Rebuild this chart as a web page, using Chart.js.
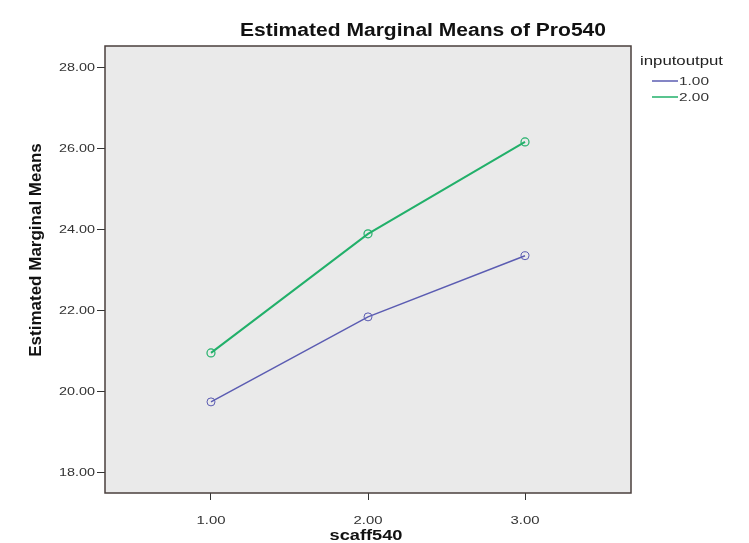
<!DOCTYPE html>
<html>
<head>
<meta charset="utf-8">
<script src="https://cdn.jsdelivr.net/npm/chart.js@4.4.1/dist/chart.umd.min.js"></script>
<style>
  html, body { margin: 0; padding: 0; background: #fff; }
  #wrap { width: 749px; height: 543px; position: relative; }
</style>
</head>
<body>
<div id="wrap"><canvas id="main-graph"></canvas></div>
<script>
const scaff540 = [1, 2, 3];
const io100 = [19.75, 21.85, 23.36];
const io200 = [20.96, 23.9, 26.17];
const yTicks = [18, 20, 22, 24, 26, 28];
const xTicks = [1, 2, 3];
const seriesNames = ["1.00", "2.00"];

const blue = "#5b5cb2";
const green = "#22b06a";
const FONT = "'Liberation Sans', Arial, sans-serif";

// the source picture is a bit wider than tall, so text gets squeezed to a target width
function fitText(ctx, text, x, y, font, w, align) {
  ctx.font = font;
  const sx = w / ctx.measureText(text).width;
  ctx.save();
  ctx.translate(x, y);
  ctx.scale(sx, 1);
  ctx.textAlign = align;
  ctx.textBaseline = "middle";
  ctx.fillText(text, 0, 0);
  ctx.restore();
}

const frame = {
  id: "frame",
  beforeDraw(chart) {
    const { ctx, chartArea: a } = chart;
    ctx.save();
    ctx.fillStyle = "#eaeaea";
    ctx.fillRect(a.left, a.top, a.right - a.left, a.bottom - a.top);
    ctx.restore();
  },
  afterDraw(chart) {
    const { ctx, chartArea: a } = chart;
    const xs = chart.scales.x, ys = chart.scales.y;
    ctx.save();
    ctx.strokeStyle = "#4a3f3d";
    ctx.lineWidth = 1.5;
    ctx.strokeRect(a.left, a.top, a.right - a.left, a.bottom - a.top);

    // tick labels
    ctx.fillStyle = "#333";
    yTicks.forEach((v) => {
      fitText(ctx, v.toFixed(2), 95, ys.getPixelForValue(v), "11px " + FONT, 36, "right");
    });
    xTicks.forEach((v) => {
      fitText(ctx, v.toFixed(2), xs.getPixelForValue(v), 521, "11px " + FONT, 29, "center");
    });

    // titles
    ctx.fillStyle = "#111";
    fitText(ctx, "Estimated Marginal Means of Pro540", 423, 31, "bold 18px " + FONT, 366, "center");
    fitText(ctx, "scaff540", 366, 536, "bold 15px " + FONT, 73, "center");
    ctx.save();
    ctx.translate(36, 250);
    ctx.rotate(-Math.PI / 2);
    ctx.font = "bold 17px " + FONT;
    ctx.textAlign = "center";
    ctx.textBaseline = "middle";
    ctx.fillText("Estimated Marginal Means", 0, 0);
    ctx.restore();

    // legend
    ctx.fillStyle = "#222";
    fitText(ctx, "inputoutput", 640, 61, "13px " + FONT, 83, "left");
    [[seriesNames[0], blue, 81], [seriesNames[1], green, 97]].forEach(([t, c, y]) => {
      ctx.strokeStyle = c;
      ctx.lineWidth = 1.5;
      ctx.beginPath();
      ctx.moveTo(652, y);
      ctx.lineTo(678, y);
      ctx.stroke();
      ctx.fillStyle = "#333";
      fitText(ctx, t, 679, y + 1, "11px " + FONT, 30, "left");
    });
    ctx.restore();
  },
};

new Chart(document.getElementById("main-graph"), {
  type: "line",
  data: {
    datasets: [
      {
        label: seriesNames[0],
        data: scaff540.map((x, i) => ({ x: x, y: io100[i] })),
        borderColor: blue,
        backgroundColor: "transparent",
        borderWidth: 1.5,
        pointRadius: 4,
        pointBorderWidth: 1,
        pointBorderColor: blue,
        pointBackgroundColor: "transparent",
      },
      {
        label: seriesNames[1],
        data: scaff540.map((x, i) => ({ x: x, y: io200[i] })),
        borderColor: green,
        backgroundColor: "transparent",
        borderWidth: 2,
        pointRadius: 4,
        pointBorderWidth: 1.2,
        pointBorderColor: green,
        pointBackgroundColor: "transparent",
      },
    ],
  },
  options: {
    responsive: true,
    maintainAspectRatio: false,
    animation: false,
    layout: { padding: { left: 0, right: 118, top: 46, bottom: 0 } },
    scales: {
      x: {
        type: "linear",
        min: 0.325,
        max: 3.675,
        afterBuildTicks: (s) => { s.ticks = xTicks.map((v) => ({ value: v })); },
        afterFit: (s) => { s.height = 50; },
        grid: { drawOnChartArea: false, tickLength: 7, tickColor: "#333", lineWidth: 1 },
        border: { display: false },
        ticks: { display: false },
      },
      y: {
        min: 17.5,
        max: 28.54,
        afterBuildTicks: (s) => { s.ticks = yTicks.map((v) => ({ value: v })); },
        afterFit: (s) => { s.width = 105; },
        grid: { drawOnChartArea: false, tickLength: 8, tickColor: "#333", lineWidth: 1 },
        border: { display: false },
        ticks: { display: false },
      },
    },
    plugins: {
      legend: { display: false },
      tooltip: { enabled: false },
    },
  },
  plugins: [frame],
});
</script>
</body>
</html>
